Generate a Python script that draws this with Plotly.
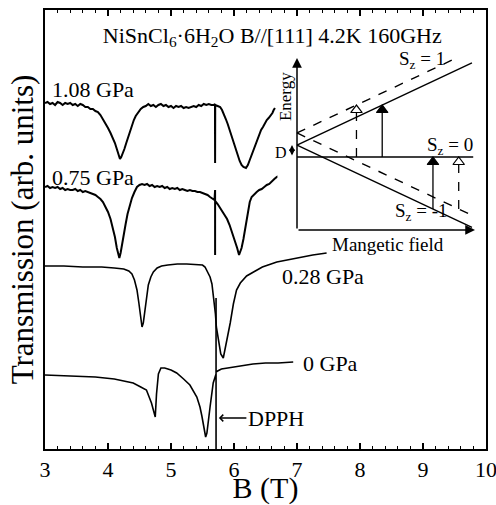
import numpy as np
import plotly.graph_objects as go

FONT = "Liberation Serif, Times New Roman, serif"

# ---------------- data: B (T) and transmission (arb. units) ----------------
B_108 = [3.00, 3.04, 3.08, 3.12, 3.16, 3.20, 3.24, 3.28, 3.32, 3.36, 3.40, 3.44, 3.48, 3.52,
         3.56, 3.60, 3.64, 3.68, 3.72, 3.76, 3.80, 3.84, 3.88, 3.92, 3.96, 4.00, 4.04, 4.08,
         4.11, 4.14, 4.17, 4.19, 4.21, 4.23, 4.26, 4.29, 4.32, 4.35, 4.38, 4.41, 4.44, 4.48,
         4.52, 4.56, 4.60, 4.64, 4.68, 4.72, 4.76, 4.80, 4.84, 4.88, 4.92, 4.96, 5.00, 5.04,
         5.08, 5.12, 5.16, 5.20, 5.24, 5.28, 5.32, 5.36, 5.40, 5.44, 5.48, 5.52, 5.56, 5.60,
         5.64, 5.68, 5.698, 5.700, 5.702, 5.74, 5.78, 5.81, 5.84, 5.87, 5.90, 5.93, 5.97, 6.01,
         6.05, 6.09, 6.12, 6.15, 6.19, 6.22, 6.25, 6.28, 6.31, 6.34, 6.37, 6.40, 6.43, 6.46,
         6.49, 6.52, 6.55, 6.58, 6.61, 6.63, 6.65]
T_108 = [346, 347, 345, 346, 344, 347, 346, 344, 346, 345, 346, 344, 345, 343,
         345, 344, 342, 342, 340, 340, 338, 337, 334, 330, 326, 321, 316, 311,
         306, 300, 294, 290, 292, 295, 300, 306, 312, 319, 324, 329, 333, 337,
         340, 342, 343, 345, 343, 344, 342, 344, 345, 343, 344, 342, 343, 341,
         343, 342, 343, 341, 342, 341, 342, 343, 342, 344, 343, 345, 344, 345,
         344, 344, 345, 286, 344, 343, 342, 339, 335, 330, 325, 319, 311, 302,
         294, 288, 284, 282, 281, 284, 289, 294, 299, 305, 310, 315, 319, 322,
         326, 329, 331, 333, 336, 339, 341]

B_075 = [3.00, 3.04, 3.08, 3.12, 3.16, 3.20, 3.24, 3.28, 3.32, 3.36, 3.40, 3.44, 3.48, 3.52,
         3.56, 3.60, 3.64, 3.68, 3.72, 3.76, 3.80, 3.84, 3.88, 3.92, 3.96, 4.00, 4.04, 4.08,
         4.11, 4.14, 4.16, 4.18, 4.20, 4.22, 4.25, 4.28, 4.31, 4.34, 4.38, 4.42, 4.46, 4.50,
         4.54, 4.58, 4.62, 4.66, 4.70, 4.74, 4.78, 4.82, 4.86, 4.90, 4.94, 4.98, 5.02, 5.06,
         5.10, 5.14, 5.18, 5.22, 5.26, 5.30, 5.34, 5.38, 5.42, 5.46, 5.50, 5.54, 5.58, 5.62,
         5.66, 5.69, 5.70, 5.70, 5.70, 5.74, 5.78, 5.82, 5.86, 5.89, 5.93, 5.97, 6.01, 6.05,
         6.08, 6.10, 6.12, 6.15, 6.19, 6.22, 6.25, 6.28, 6.32, 6.36, 6.40, 6.44, 6.48, 6.52,
         6.56, 6.60, 6.64, 6.68, 6.72, 6.76, 6.80, 6.84, 6.88, 6.92, 6.96, 7.00]
T_075 = [262, 263, 261, 262, 261, 262, 260, 261, 259, 260, 259, 259, 260, 258,
         259, 257, 258, 257, 256, 255, 254, 252, 250, 247, 242, 237, 230, 221,
         212, 201, 195, 191, 196, 204, 214, 225, 235, 243, 251, 257, 262, 264,
         265, 264, 265, 263, 264, 262, 263, 262, 263, 261, 262, 260, 261, 260,
         261, 259, 260, 259, 258, 259, 258, 258, 257, 257, 256, 255, 254, 252,
         250, 249, 259, 194, 248, 245, 241, 236, 233, 230, 224, 217, 209, 201,
         194, 197, 201, 210, 224, 236, 247, 252, 255, 257, 259, 260, 262, 264,
         265, 268, 270, 272, 273, 274, 276, 275, 278, 280, 282, 284]

B_028 = [3.00, 3.30, 3.60, 3.90, 4.10, 4.25, 4.33, 4.38, 4.42, 4.46, 4.49, 4.52, 4.54, 4.56,
         4.58, 4.61, 4.64, 4.68, 4.72, 4.78, 4.85, 4.95, 5.10, 5.25, 5.40, 5.50, 5.54, 5.58,
         5.62, 5.65, 5.67, 5.69, 5.705, 5.72, 5.76, 5.79, 5.83, 5.86, 5.90, 5.94, 5.99, 6.04,
         6.10, 6.20, 6.31, 6.45, 6.68, 6.85, 7.05, 7.25, 7.47]
T_028 = [183, 183, 182, 182, 181, 180, 178, 175, 169, 159, 146, 132, 122, 126,
         137, 153, 164, 172, 177, 181, 183, 184, 185, 185, 184, 184, 182, 177,
         172, 165, 156, 145, 135, 122, 105, 95, 91, 100, 115, 126, 145, 159,
         166, 173, 177, 182, 187, 189, 192, 194, 196]

B_000 = [3.00, 3.40, 3.80, 4.10, 4.25, 4.40, 4.52, 4.61, 4.69, 4.72, 4.75, 4.77, 4.80, 4.84,
         4.90, 5.00, 5.09, 5.20, 5.30, 5.41, 5.46, 5.49, 5.52, 5.55, 5.57, 5.59, 5.62, 5.67,
         5.70, 5.715, 5.715, 5.715, 5.715, 5.74, 5.80, 5.90, 5.98, 6.10, 6.30, 6.50, 6.70, 6.94]
T_000 = [74, 73, 72, 70, 68, 66, 62, 59, 46, 39, 32, 55, 75, 81,
         81, 79, 76, 70, 64, 52, 42, 33, 20, 12, 16, 28, 42, 66,
         73, 75, 0, 151, 77, 78, 80, 81, 82, 83, 85, 86, 86, 87]

series = [
    ("1.08 GPa", B_108, T_108, 2.0),
    ("0.75 GPa", B_075, T_075, 2.0),
    ("0.28 GPa", B_028, T_028, 1.6),
    ("0 GPa", B_000, T_000, 1.6),
]

# ---------------- inset: spin-1 levels with single-ion anisotropy D ----------------
g_slope = 0.47          # Zeeman slope (schematic units)
D_solid = 0.067         # zero-field splitting, solid levels
D_dashed = 0.135        # zero-field splitting, dashed levels
h_nu = 0.292            # microwave quantum
H_end = [0.0, 0.983]
H_end_dashed_up = [0.0, 0.89]
H_axis_end = 1.0
E_axis_min, E_axis_max = -0.410, 0.556

# inset placement (style): pixel position of the origin H=0, E=0 and scale
FIG_W, FIG_H = 496, 505
PLOT_L, PLOT_R, PLOT_T, PLOT_B = 45, 486, 10, 449
PX_PER_UNIT = 178.0
ORIGIN_X, ORIGIN_Y = 297.0, 157.0
X2_RANGE = [-0.11, 1.0]
Y2_RANGE = [-0.53, 0.62]


def x_dom(v):
    return (ORIGIN_X + v * PX_PER_UNIT - PLOT_L) / (PLOT_R - PLOT_L)


def y_dom(v):
    return (PLOT_B - (ORIGIN_Y - v * PX_PER_UNIT)) / (PLOT_B - PLOT_T)


fig = go.Figure()

for name, bx, ty, w in series:
    fig.add_trace(go.Scatter(x=bx, y=ty, mode="lines", name=name,
                             line=dict(color="black", width=w), showlegend=False))

# inset energy levels
H = np.array(H_end)
Hd = np.array(H_end_dashed_up)
levels = [
    (H, D_solid + g_slope * H, "solid"),
    (H, D_solid - g_slope * H, "solid"),
    (Hd, D_dashed + g_slope * Hd, "dash"),
    (H, D_dashed - g_slope * H, "dash"),
    (np.array([0.0, 0.99]), np.array([0.0, 0.0]), "solid"),
]
for hx, ey, dash in levels:
    fig.add_trace(go.Scatter(x=hx, y=ey, xaxis="x2", yaxis="y2", mode="lines",
                             line=dict(color="black", width=1.4, dash=dash),
                             showlegend=False, cliponaxis=False))

# resonance arrows
head_size = 10
r_units = (head_size / 2) / PX_PER_UNIT
res = [
    ((h_nu - D_solid) / g_slope, 0.0, h_nu, "solid", "triangle-up"),
    ((h_nu + D_solid) / g_slope, -h_nu, 0.0, "solid", "triangle-up"),
    ((h_nu - D_dashed) / g_slope, 0.0, h_nu, "dash", "triangle-up-open"),
    ((h_nu + D_dashed) / g_slope, -h_nu, 0.0, "dash", "triangle-up-open"),
]
for hres, e0, e1, dash, sym in res:
    fig.add_trace(go.Scatter(x=[hres, hres], y=[e0, e1 - 1.5 * r_units], xaxis="x2", yaxis="y2",
                             mode="lines", line=dict(color="black", width=1.3, dash=dash),
                             showlegend=False, cliponaxis=False))
    fig.add_trace(go.Scatter(x=[hres], y=[e1 - r_units], xaxis="x2", yaxis="y2", mode="markers",
                             marker=dict(symbol=sym, size=head_size, color="black",
                                         line=dict(color="black", width=1.2)),
                             showlegend=False, cliponaxis=False))

annotations = []
# inset axes arrows
annotations.append(dict(x=0, y=E_axis_max, ax=0, ay=E_axis_min, xref="x2", yref="y2",
                        axref="x2", ayref="y2", showarrow=True, arrowhead=2, arrowsize=1.3,
                        arrowwidth=1.5, arrowcolor="black", text=""))
annotations.append(dict(x=H_axis_end, y=E_axis_min, ax=0, ay=E_axis_min, xref="x2", yref="y2",
                        axref="x2", ayref="y2", showarrow=True, arrowhead=2, arrowsize=1.3,
                        arrowwidth=1.5, arrowcolor="black", text=""))
# D double arrow
annotations.append(dict(x=-0.028, y=D_solid, ax=-0.028, ay=0.0, xref="x2", yref="y2",
                        axref="x2", ayref="y2", showarrow=True, arrowhead=2, arrowside="end+start",
                        arrowsize=0.8, arrowwidth=1.5, arrowcolor="black", text=""))

inset_text = [
    ("S<sub>z</sub> = 1", 0.702, 0.545, 19, 0),
    ("S<sub>z</sub> = 0", 0.860, 0.062, 19, 0),
    ("S<sub>z</sub> = -1", 0.697, -0.310, 19, 0),
    ("Energy", -0.067, 0.337, 17, -90),
    ("Mangetic field", 0.511, -0.494, 19, 0),
    ("D", -0.090, 0.028, 16, 0),
]
for txt, hx, ey, fs, ang in inset_text:
    annotations.append(dict(x=hx, y=ey, xref="x2", yref="y2", text=txt, showarrow=False,
                            textangle=ang, font=dict(family=FONT, size=fs, color="black")))

# curve labels
label_pos = [(3.08, 360), (3.08, 272), (6.73, 173), (7.06, 86)]
for (name, _, _, _), (lx, ly) in zip(series, label_pos):
    annotations.append(dict(x=lx, y=ly, xref="x", yref="y", text=name, showarrow=False,
                            xanchor="left", yanchor="middle",
                            font=dict(family=FONT, size=22, color="black")))
# DPPH marker
annotations.append(dict(x=5.76, y=31, xref="x", yref="y", text="DPPH", showarrow=True,
                        arrowhead=4, arrowsize=1.0, arrowwidth=1.3, arrowcolor="black",
                        ax=57, ay=0, font=dict(family=FONT, size=22, color="black")))

fig.update_layout(
    width=FIG_W, height=FIG_H, autosize=False,
    margin=dict(l=PLOT_L, r=FIG_W - PLOT_R, t=PLOT_T, b=FIG_H - PLOT_B, autoexpand=False),
    paper_bgcolor="white", plot_bgcolor="white",
    font=dict(family=FONT, color="black"),
    title=dict(text="NiSnCl<sub>6</sub>·6H<sub>2</sub>O B//[111] 4.2K 160GHz",
               x=0.549, xanchor="center", y=0.931, yanchor="middle",
               font=dict(family=FONT, size=22, color="black"), automargin=False),
    xaxis=dict(range=[3, 10], dtick=1, tick0=3, ticks="inside", ticklen=6, tickwidth=1.5,
               tickcolor="black", showline=True, linewidth=2, linecolor="black", mirror="ticks",
               showgrid=False, zeroline=False, automargin=False, ticklabeloverflow="allow",
               minor=dict(ticks="inside", dtick=0.2, ticklen=3, tickwidth=1.2, tickcolor="black",
                          showgrid=False),
               tickfont=dict(family=FONT, size=22, color="black"),
               title=dict(text="B (T)", font=dict(family=FONT, size=30, color="black"), standoff=0)),
    yaxis=dict(range=[0, 439], showticklabels=False, ticks="", showline=True, linewidth=2,
               linecolor="black", mirror=True, showgrid=False, zeroline=False, automargin=False,
               title=dict(text="Transmission (arb. units)",
                          font=dict(family=FONT, size=31, color="black"), standoff=0)),
    xaxis2=dict(domain=[x_dom(X2_RANGE[0]), x_dom(X2_RANGE[1])], range=X2_RANGE,
                anchor="y2", visible=False, automargin=False),
    yaxis2=dict(domain=[y_dom(Y2_RANGE[0]), y_dom(Y2_RANGE[1])], range=Y2_RANGE,
                anchor="x2", visible=False, automargin=False),
    annotations=annotations,
)

# remove the browser's default page margin and scrollbars so the figure sits at the window origin
fig.write_html(
    "out.html",
    config={"displayModeBar": False, "responsive": False},
    post_script="document.body.style.margin='0px';document.body.style.overflow='hidden';"
                "document.documentElement.style.overflow='hidden';",
)
